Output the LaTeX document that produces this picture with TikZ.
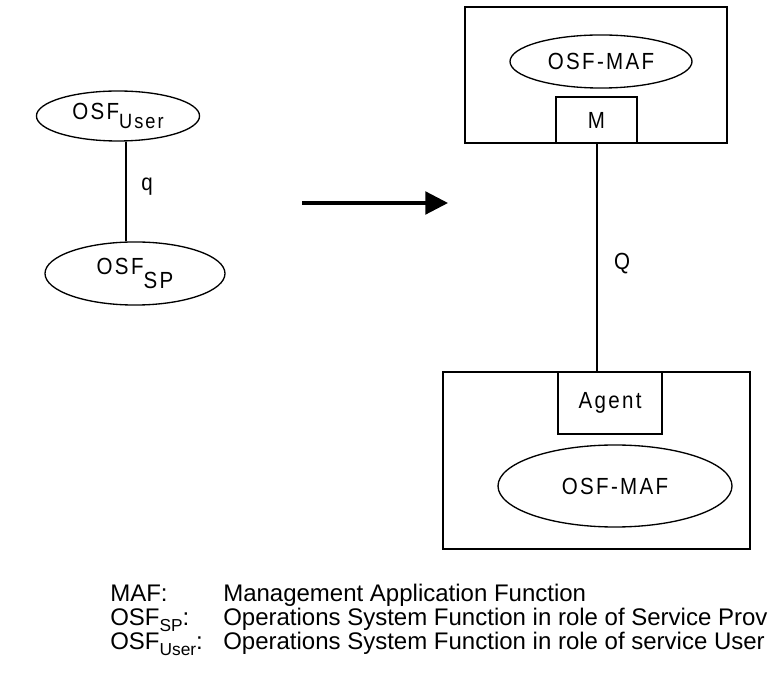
\documentclass[tikz,border=0pt]{standalone}
\usepackage{fontspec}
\setmainfont{Liberation Sans}
\newfontfamily\diag[FakeStretch=0.88,LetterSpace=10]{Liberation Sans}
\usetikzlibrary{arrows.meta,shapes.geometric}
\begin{document}
\begin{tikzpicture}[x=0.75pt,y=-0.75pt,
  ell/.style={draw,ellipse,line width=1pt,inner sep=0pt,font=\diag\fontsize{17.5}{20}\selectfont},
  box/.style={draw,rectangle,line width=1.4pt,inner sep=0pt,font=\diag\fontsize{17.5}{20}\selectfont},
  conn/.style={line width=2pt},
  lbl/.style={font=\diag\fontsize{17.5}{20}\selectfont,inner sep=0pt},
  leg/.style={font=\fontsize{18}{19}\selectfont,anchor=base west,inner sep=0pt}]
\useasboundingbox (0,0) rectangle (768,680);
% left side
\node[ell,minimum width=122.3pt,minimum height=37.5pt] (U) at (118,116) {OSF\raisebox{-7pt}{\fontsize{15.5}{16}\selectfont User}};
\node[ell,minimum width=135pt,minimum height=47.3pt] (SP) at (135,273.5) {OSF\raisebox{-10pt}{SP}};
\coordinate (qx) at (126,0);
\draw[conn] (qx |- U.south) -- (qx |- SP.north);
\node[lbl] (q) at (147,187) {q};
% arrow
\coordinate (a1) at (302,203);
\coordinate (a2) at (448,203);
\draw[line width=2.4pt,-{Triangle[length=17pt,width=17pt]}] (a1) -- (a2);
% right top
\node[box,minimum width=196.5pt,minimum height=102pt] (TB) at (596,75) {};
\node[ell,minimum width=136.5pt,minimum height=39.8pt] (TE) at (601,61.5) {OSF-MAF};
\node[box,minimum width=60.75pt,minimum height=34.5pt] (M) at (596.5,120) {M};
% right bottom
\node[box,minimum width=230.25pt,minimum height=132.75pt] (BB) at (596.5,460.5) {};
\node[box,minimum width=78pt,minimum height=46.5pt] (AG) at (610,403) {Agent};
\node[ell,minimum width=175.5pt,minimum height=61.5pt] (BE) at (615,486) {OSF-MAF};
\coordinate (Qx) at (597,0);
\draw[line width=2.2pt] (Qx |- M.south) -- (Qx |- BB.north);
\node[lbl] (Q) at (622,264) {Q};
% legend
\node[leg] (l1) at (110,602) {MAF:};
\node[leg] (d1) at (223,602) {Management Application Function};
\node[leg] (l2) at (110,626) {OSF\raisebox{-4pt}{\fontsize{13}{14}\selectfont SP}:};
\node[leg] (d2) at (223,626) {Operations System Function in role of Service Prov};
\node[leg] (l3) at (110,650) {OSF\raisebox{-4pt}{\fontsize{13}{14}\selectfont User}:};
\node[leg] (d3) at (223,650) {Operations System Function in role of service User};
\end{tikzpicture}
\end{document}
